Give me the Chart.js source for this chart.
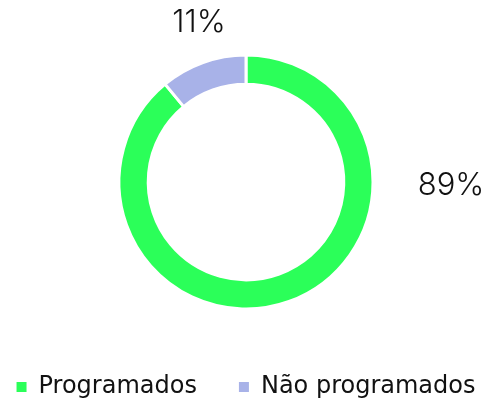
<!DOCTYPE html>
<html>
<head>
<meta charset="utf-8">
<script src="https://cdn.jsdelivr.net/npm/chart.js@4"></script>
<style>
    html, body {margin: 0; padding: 0; background: #fff;}
    #wrap {width: 492px; height: 406px;}
</style>
</head>
<body>
<div id="wrap"><canvas id="programadosChart"></canvas></div>
<script>
const categories = ['Programados', 'Não programados'];
const percentValues = [89, 11];
const valueLabels = ['89%', '11%'];
const sliceColors = ['#2bff59', '#a8b2e8'];

// draws the percentage text next to each slice (offsets from the doughnut centre)
const sliceLabels = {
    id: 'sliceLabels',
    afterDatasetsDraw(chart, args, opts) {
        const meta = chart.getDatasetMeta(0);
        const ctx = chart.ctx;
        ctx.save();
        ctx.font = '300 31px Inter';
        ctx.fillStyle = '#111';
        ctx.textAlign = 'center';
        ctx.textBaseline = 'middle';
        meta.data.forEach((arc, i) => {
            const off = opts.offsets[i];
            ctx.fillText(valueLabels[i], arc.x + off[0], arc.y + off[1]);
        });
        ctx.restore();
    }
};

new Chart(document.getElementById('programadosChart'), {
    type: 'doughnut',
    data: {
        labels: categories,
        datasets: [{
            data: percentValues,
            backgroundColor: sliceColors,
            borderColor: '#ffffff',
            borderWidth: 3,
            hoverOffset: 0
        }]
    },
    options: {
        responsive: true,
        maintainAspectRatio: false,
        animation: false,
        radius: 127,
        cutout: '77%',
        layout: {
            // wider than the canvas on purpose so both legend items stay on one row
            padding: {top: 31, bottom: -3, left: -40, right: -40}
        },
        plugins: {
            legend: {
                position: 'bottom',
                labels: {
                    boxWidth: 10,
                    boxHeight: 10,
                    padding: 42,
                    color: '#111',
                    font: {family: 'DejaVu Sans', size: 24, weight: '400'},
                    generateLabels(chart) {
                        const items = Chart.overrides.doughnut.plugins.legend.labels.generateLabels(chart);
                        items.forEach(item => { item.lineWidth = 0; });
                        return items;
                    }
                }
            },
            tooltip: {enabled: false},
            sliceLabels: {
                offsets: [[205, 4], [-47, -159]]
            }
        }
    },
    plugins: [sliceLabels]
});
</script>
</body>
</html>
